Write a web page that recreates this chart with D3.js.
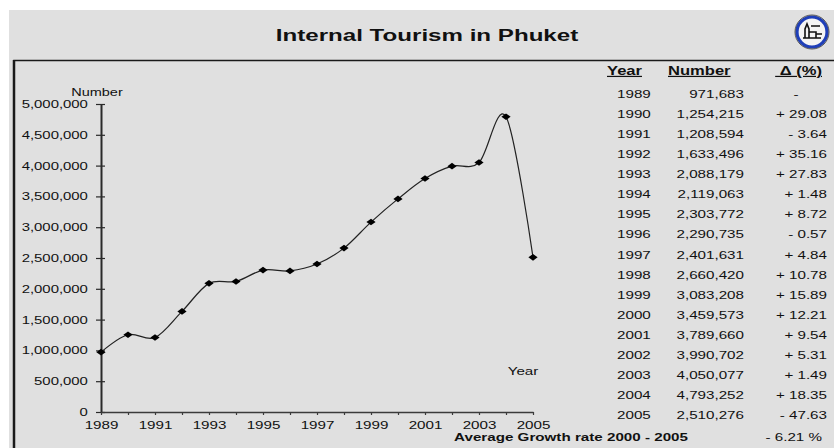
<!DOCTYPE html>
<html>
<head>
<meta charset="utf-8">
<script src="https://cdn.jsdelivr.net/npm/d3@7"></script>
<style>
  html, body { margin: 0; padding: 0; background: #ffffff; }
  svg { display: block; }
  text { font-family: "Liberation Sans", Arial, sans-serif; fill: #111; }
</style>
</head>
<body>
<svg id="chart" width="834" height="448"></svg>
<script>
// ---- data ----
const years = [1989, 1990, 1991, 1992, 1993, 1994, 1995, 1996, 1997, 1998, 1999, 2000, 2001, 2002, 2003, 2004, 2005];
const numbers = [971683, 1254215, 1208594, 1633496, 2088179, 2119063, 2303772, 2290735, 2401631, 2660420, 3083208, 3459573, 3789660, 3990702, 4050077, 4793252, 2510276];
const numberLabels = ["971,683", "1,254,215", "1,208,594", "1,633,496", "2,088,179", "2,119,063", "2,303,772", "2,290,735", "2,401,631", "2,660,420", "3,083,208", "3,459,573", "3,789,660", "3,990,702", "4,050,077", "4,793,252", "2,510,276"];
const deltaLabels = ["-", "+ 29.08", "- 3.64", "+ 35.16", "+ 27.83", "+ 1.48", "+ 8.72", "- 0.57", "+ 4.84", "+ 10.78", "+ 15.89", "+ 12.21", "+ 9.54", "+ 5.31", "+ 1.49", "+ 18.35", "- 47.63"];
const yTicks = [0, 500000, 1000000, 1500000, 2000000, 2500000, 3000000, 3500000, 4000000, 4500000, 5000000];
const xLabelYears = [1989, 1991, 1993, 1995, 1997, 1999, 2001, 2003, 2005];
const tableHeaders = ["Year", "Number", "\u00a0Δ (%)"];
const title = "Internal Tourism in Phuket";
const avgLabel = "Average Growth rate 2000 - 2005";
const avgValue = "- 6.21 %";

// ---- setup ----
const SX = 1.38; // horizontal stretch of the original typography
const svg = d3.select("#chart");

svg.append("rect").attr("x", 9).attr("y", 10).attr("width", 825).attr("height", 438).attr("fill", "#e0e0e0");
// framed panel
svg.append("path").attr("d", "M14,448 V60.5 H834").attr("fill", "none").attr("stroke", "#1a1a1a").attr("stroke-width", 1.5);
svg.append("line").attr("x1", 14).attr("x2", 14).attr("y1", 60).attr("y2", 448).attr("stroke", "#1a1a1a").attr("stroke-width", 2.5);

function stext(x, y, str, opts = {}) {
  const t = svg.append("text")
    .attr("transform", `translate(${x},${y}) scale(${opts.sx || SX},1)`)
    .attr("text-anchor", opts.anchor || "start")
    .attr("font-size", opts.size || 11)
    .attr("font-weight", opts.bold ? "bold" : "normal")
    .text(str);
  if (opts.underline) t.attr("text-decoration", "underline");
  return t;
}

// title
stext(427, 41, title, { size: 17, bold: true, anchor: "middle", sx: 1.42 });

// logo (emblem)
const logo = svg.append("g").attr("transform", "translate(812,32)");
logo.append("circle").attr("r", 15).attr("fill", "#f4f4f4").attr("stroke", "#1f3fb8").attr("stroke-width", 3.2);
logo.append("circle").attr("r", 17).attr("fill", "none").attr("stroke", "#333").attr("stroke-width", 0.8);
logo.append("path").attr("d", "M-9,6 H9 M-7,6 V-3 L-5,-8 L-3,-3 V6 M-3,0 H4 V6 M4,2 H10 M-1,-6 H8").attr("fill", "none").attr("stroke", "#111").attr("stroke-width", 1.6);

// ---- scales ----
const x = d3.scaleLinear().domain([1989, 2005]).range([101, 533]);
const y = d3.scaleLinear().domain([0, 5000000]).range([412, 104]);

// y axis
const yAxisG = svg.append("g").attr("transform", `translate(${x(1989)},0)`)
  .call(d3.axisLeft(y).tickValues(yTicks).tickSizeInner(5).tickSizeOuter(0).tickPadding(4.5)
    .tickFormat(d3.format(",")));
yAxisG.select(".domain").attr("stroke", "#2a2a2a").attr("stroke-width", 2);
yAxisG.selectAll(".tick line").attr("x1", 4).attr("stroke", "#2a2a2a").attr("stroke-width", 1.2);
yAxisG.selectAll(".tick text").attr("font-family", "Liberation Sans, Arial, sans-serif").attr("font-size", 10.8)
  .attr("fill", "#111").attr("transform", `scale(${SX},1)`);

// x axis
const xAxisG = svg.append("g").attr("transform", `translate(0,${y(0)})`)
  .call(d3.axisBottom(x).tickValues(years).tickSizeInner(3).tickSizeOuter(0).tickPadding(6)
    .tickFormat(d => xLabelYears.includes(d) ? String(d) : ""));
xAxisG.select(".domain").attr("stroke", "#3a3a3a").attr("stroke-width", 1.3);
xAxisG.selectAll(".tick line").attr("stroke", "#3a3a3a").attr("stroke-width", 1.2);
xAxisG.selectAll(".tick text").attr("font-family", "Liberation Sans, Arial, sans-serif").attr("font-size", 11)
  .attr("fill", "#111").attr("transform", `scale(${SX},1)`);

// axis titles
stext(97, 96, "Number", { size: 10.5, anchor: "middle" });
stext(523, 375, "Year", { size: 11, anchor: "middle" });

// line
const pts = years.map((yr, i) => [yr, numbers[i]]);
svg.append("path").datum(pts)
  .attr("fill", "none").attr("stroke", "#222").attr("stroke-width", 1.2)
  .attr("d", d3.line().x(d => x(d[0])).y(d => y(d[1])).curve(d3.curveCatmullRom.alpha(0)));

// markers
svg.selectAll("path.mk").data(pts).enter().append("path").attr("class", "mk")
  .attr("transform", d => `translate(${x(d[0])},${y(d[1])})`)
  .attr("d", "M0,-3.3 L4.6,0 L0,3.3 L-4.6,0 Z").attr("fill", "#000");

// ---- table ----
const rowY = d3.scaleLinear().domain([0, years.length - 1]).range([94, 415]);
stext(607, 75, tableHeaders[0], { size: 12, bold: true, underline: true });
stext(668, 75, tableHeaders[1], { size: 12, bold: true, underline: true });
stext(822, 75, tableHeaders[2], { size: 12, bold: true, underline: true, anchor: "end" });

years.forEach((yr, i) => {
  const yy = rowY(i) + 4;
  stext(617, yy, String(yr));
  stext(744, yy, numberLabels[i], { anchor: "end" });
  if (deltaLabels[i] === "-") stext(796, yy, "-", { anchor: "middle" });
  else stext(827, yy, deltaLabels[i], { anchor: "end" });
});

stext(571, 441, avgLabel, { size: 11, bold: true, anchor: "middle" });
stext(822, 441, avgValue, { anchor: "end" });
</script>
</body>
</html>
